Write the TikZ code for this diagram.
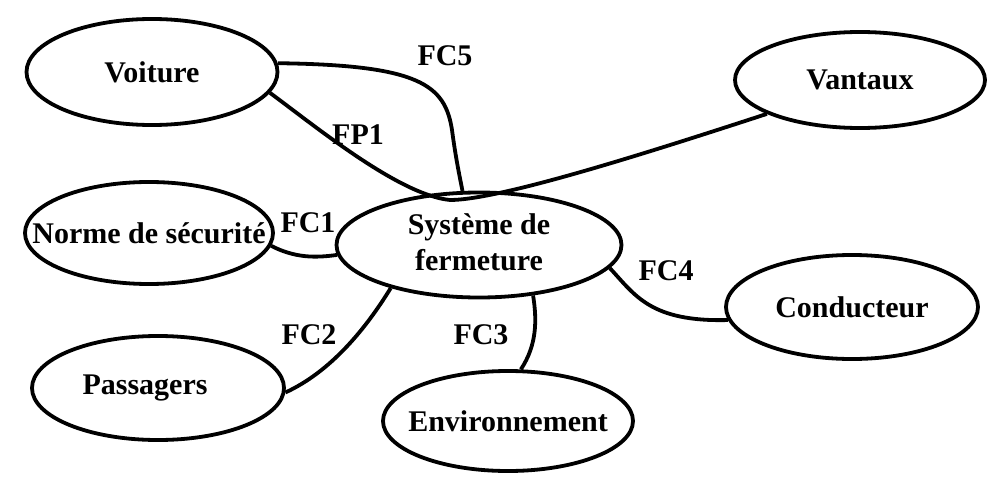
\documentclass[tikz,border=0pt]{standalone}
\usepackage{fontspec}
\setmainfont{Liberation Serif}
\usetikzlibrary{shapes.geometric}

\begin{document}
\begin{tikzpicture}[x=1pt,y=-1pt,line width=3.8pt,
                      bloc/.style={ellipse,draw,inner sep=0pt,font=\fontsize{30}{36}\selectfont\bfseries},
                      lbl/.style={font=\fontsize{30}{36}\selectfont\bfseries}]
                      \useasboundingbox(0,0)rectangle(999,487);
                      \node[bloc,minimum width=251pt,minimum height=106pt](voiture)at(152,72){\makebox[0pt]{Voiture}};
                      \node[bloc,minimum width=250pt,minimum height=96pt](vantaux)at(860,80){\makebox[0pt]{Vantaux}};
                      \node[bloc,minimum width=248pt,minimum height=102pt](norme)at(149,233){\makebox[0pt]{Norme de s\'ecurit\'e}};
                      \node[bloc,minimum width=285pt,minimum height=105pt](systeme)at(479,245){\makebox[0pt]{\begin{tabular}{@{}c@{}}Syst\`eme de\\fermeture\end{tabular}}};
                      \node[bloc,minimum width=252pt,minimum height=104pt](conducteur)at(852,307){\makebox[0pt]{Conducteur}};
                      \node[bloc,minimum width=252pt,minimum height=104pt](passagers)at(158,388){\makebox[0pt]{Passagers\hspace{26pt}}};
                      \node[bloc,minimum width=250pt,minimum height=100pt](environnement)at(508,421){\makebox[0pt]{Environnement}};
                      \node[lbl](fc5)at(445,56){FC5};
                      \node[lbl](fp1)at(358,135){FP1};
                      \node[lbl](fc1)at(308,223){FC1};
                      \node[lbl](fc2)at(309,335){FC2};
                      \node[lbl](fc3)at(481,335){FC3};
                      \node[lbl](fc4)at(666,271){FC4};
                      \draw(voiture.4)..controls(420,65)and(445,85)..(452,130)..controls(456,160)and(460,178)..(systeme.107);
                      \draw(voiture.-10)..controls(320,130)and(400,195)..(450,200)..controls(500,200)and(650,152)..(vantaux.200);
                      \draw(norme.-6)..controls(295,258)and(315,258)..(systeme.184);
                      \draw(passagers.-2)..controls(330,372)and(365,330)..(systeme.206);
                      \draw(environnement.76)..controls(537,345)and(537,320)..(systeme.-43);
                      \draw(systeme.-10)..controls(635,295)and(650,322)..(conducteur.186);
                  \end{tikzpicture}
\end{document}
